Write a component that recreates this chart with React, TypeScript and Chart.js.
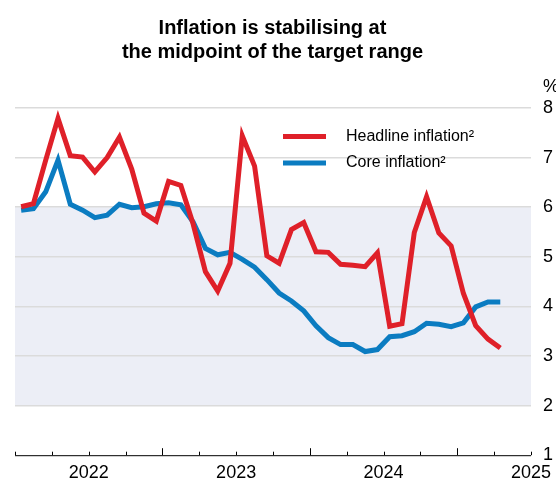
import React, { useEffect, useRef } from 'react';
import { Chart, registerables } from 'chart.js';

Chart.register(...registerables);

// Monthly observations from January 2022 to April 2025 (year-ended, %)
const startYear = 2022;
const headline = [
  6.01, 6.07, 6.95, 7.79, 7.04, 7.01, 6.71, 7.0, 7.41, 6.77, 5.88, 5.72,
  6.52, 6.44, 5.66, 4.7, 4.31, 4.87, 7.44, 6.83, 5.02, 4.87, 5.55, 5.69,
  5.1, 5.09, 4.85, 4.83, 4.8, 5.08, 3.6, 3.65, 5.49, 6.21, 5.48, 5.22,
  4.26, 3.61, 3.34, 3.16,
];
const core = [
  5.94, 5.97, 6.31, 6.95, 6.06, 5.94, 5.79, 5.84, 6.06, 5.99, 6.01, 6.07,
  6.09, 6.05, 5.7, 5.17, 5.04, 5.09, 4.95, 4.79, 4.54, 4.27, 4.11, 3.91,
  3.61, 3.37, 3.23, 3.23, 3.09, 3.13, 3.39, 3.41, 3.49, 3.66, 3.64, 3.59,
  3.67, 3.99, 4.09, 4.09,
];
const yTicks = [1, 2, 3, 4, 5, 6, 7, 8];
const yearLabels = ['2022', '2023', '2024', '2025'];
const targetRange = [2, 6];
const titleLines = ['Inflation is stabilising at', 'the midpoint of the target range'];
const seriesNames = ['Headline inflation²', 'Core inflation²'];
const unitLabel = '%';

const RED = '#DF2029';
const BLUE = '#0B7CC1';
const BAND = '#ECEEF6';
const GRID = '#DBDBDB';
const FONT = '"Liberation Sans", Arial, Helvetica, sans-serif';

const xMax = 42; // months from Jan 2022 to Jul 2025

const decorations = {
  id: 'decorations',
  beforeDraw(chart: any) {
    const { ctx, chartArea } = chart;
    const y = chart.scales.y;
    const top = y.getPixelForValue(targetRange[1]);
    const bottom = y.getPixelForValue(targetRange[0]);
    ctx.save();
    ctx.fillStyle = BAND;
    ctx.fillRect(chartArea.left, top, chartArea.right - chartArea.left, bottom - top);
    ctx.restore();
  },
  afterDraw(chart: any) {
    const { ctx, chartArea } = chart;
    const x = chart.scales.x;
    const y = chart.scales.y;
    ctx.save();
    // Title
    ctx.fillStyle = '#000';
    ctx.font = `bold 20px ${FONT}`;
    ctx.textAlign = 'center';
    ctx.textBaseline = 'alphabetic';
    ctx.fillText(titleLines[0], 272.5, 34);
    ctx.fillText(titleLines[1], 272.5, 58);
    // unit
    ctx.font = `18px ${FONT}`;
    ctx.textAlign = 'left';
    ctx.fillText(unitLabel, chartArea.right + 12, 92);
    // x axis line
    const axisY = y.getPixelForValue(yTicks[0]);
    ctx.strokeStyle = '#000';
    ctx.lineWidth = 1;
    ctx.beginPath();
    ctx.moveTo(chartArea.left, axisY + 0.5);
    ctx.lineTo(chartArea.right, axisY + 0.5);
    ctx.stroke();
    // ticks (quarterly, taller at year boundaries)
    for (let m = 0; m <= xMax; m += 3) {
      const px = Math.round(x.getPixelForValue(m)) + 0.5;
      const major = m % 12 === 0 && m > 0 && m < xMax;
      ctx.beginPath();
      ctx.moveTo(px, axisY);
      ctx.lineTo(px, axisY - (major ? 7 : 3.5));
      ctx.stroke();
    }
    // year labels at mid-year
    ctx.font = `18px ${FONT}`;
    ctx.textAlign = 'center';
    ctx.textBaseline = 'alphabetic';
    yearLabels.forEach((lab, i) => {
      const px = x.getPixelForValue(i * 12 + 6);
      ctx.fillText(lab, px, 478);
    });
    // legend
    const legendColors = [RED, BLUE];
    const legendY = [136.5, 163];
    seriesNames.forEach((name, i) => {
      ctx.strokeStyle = legendColors[i];
      ctx.lineWidth = 5;
      ctx.beginPath();
      ctx.moveTo(283, legendY[i]);
      ctx.lineTo(326, legendY[i]);
      ctx.stroke();
      ctx.fillStyle = '#000';
      ctx.font = `16px ${FONT}`;
      ctx.textAlign = 'left';
      ctx.textBaseline = 'middle';
      ctx.fillText(name, 346, legendY[i]);
    });
    ctx.restore();
  },
};

export default function App() {
  const ref = useRef<HTMLCanvasElement | null>(null);
  useEffect(() => {
    document.body.style.margin = '0';
    const canvas = ref.current;
    if (!canvas) return;
    const toPoints = (arr: number[]) => arr.map((v, i) => ({ x: i + 0.5, y: v }));
    const chart = new Chart(canvas, {
      type: 'line',
      data: {
        datasets: [
          {
            label: seriesNames[0],
            data: toPoints(headline),
            borderColor: RED,
            borderWidth: 5,
            pointRadius: 0,
            tension: 0,
            fill: false,
          },
          {
            label: seriesNames[1],
            data: toPoints(core),
            borderColor: BLUE,
            borderWidth: 5,
            pointRadius: 0,
            tension: 0,
            fill: false,
          },
        ],
      },
      options: {
        responsive: false,
        animation: false,
        devicePixelRatio: 1,
        layout: { padding: { left: 15, right: 0, top: 108, bottom: 21 } },
        plugins: {
          legend: { display: false },
          title: { display: false },
          tooltip: { enabled: false },
        },
        scales: {
          x: { type: 'linear', min: 0, max: xMax, display: false },
          y: {
            position: 'right',
            min: yTicks[0],
            max: yTicks[yTicks.length - 1],
            afterBuildTicks: (scale: any) => {
              scale.ticks = yTicks.map((v) => ({ value: v }));
            },
            afterFit: (scale: any) => {
              scale.width = 25;
            },
            ticks: {
              padding: 12,
              color: '#000',
              font: { family: FONT, size: 18 },
            },
            grid: {
              color: (c: any) => (c.tick && c.tick.value === yTicks[0] ? 'rgba(0,0,0,0)' : GRID),
              lineWidth: 1.5,
              drawTicks: false,
            },
            border: { display: false },
          },
        },
      },
      plugins: [decorations],
    } as any);
    return () => chart.destroy();
  }, []);
  return <canvas ref={ref} width={556} height={478} style={{ display: 'block', width: 556, height: 478 }} />;
}
